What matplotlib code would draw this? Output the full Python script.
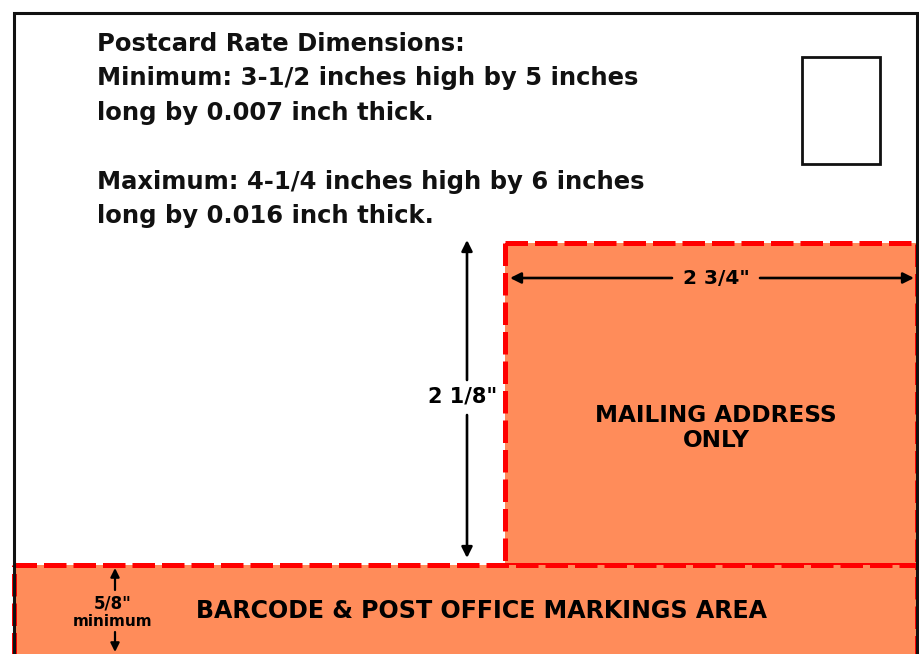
import matplotlib.pyplot as plt
from matplotlib.patches import Rectangle, FancyArrowPatch

# text content of the diagram
header_lines = ["Postcard Rate Dimensions:",
                "Minimum: 3-1/2 inches high by 5 inches",
                "long by 0.007 inch thick.",
                "",
                "Maximum: 4-1/4 inches high by 6 inches",
                "long by 0.016 inch thick."]
address_label = "MAILING ADDRESS\nONLY"
barcode_label = "BARCODE & POST OFFICE MARKINGS AREA"
address_height = '2 1/8"'
address_width = '2 3/4"'
barcode_height = '5/8"'

ORANGE = "#ff8c5a"
RED = "#ff0000"
FONT = "DejaVu Sans"

fig = plt.figure(figsize=(9.2, 6.54), dpi=100)
ax = fig.add_axes([0, 0, 1, 1])
ax.set_xlim(0, 920)
ax.set_ylim(654, 0)
ax.axis("off")

# card outline
ax.plot([14, 14, 917, 917], [680, 13, 13, 680], color="#111111", lw=2.2,
        solid_joinstyle="miter")

# stamp box
ax.add_patch(Rectangle((802, 57), 78, 107, fill=False, ec="#111111", lw=2.0))

# orange zones with red dashed outlines
for x0, y0, w, h in [(505, 243, 412, 322), (14, 565, 903, 110)]:
    ax.add_patch(Rectangle((x0, y0), w, h, fc=ORANGE, ec="none"))
    ax.add_patch(Rectangle((x0, y0), w, h, fill=False, ec=RED, lw=3.6,
                           ls=(0, (4.5, 1.4))))

# header text
y = 44
for line in header_lines:
    if line:
        ax.text(97, y, line, fontsize=17.5, fontweight="bold", va="center",
                ha="left", family=FONT, color="#111111")
    y += 34.5

def arrow(p1, p2, lw=1.9, ms=16):
    ax.add_patch(FancyArrowPatch(p1, p2, arrowstyle="-|>", mutation_scale=ms,
                                 color="black", lw=lw, shrinkA=0, shrinkB=0))

# vertical 2 1/8" dimension
arrow((467, 380), (467, 240))
arrow((467, 415), (467, 558))
ax.text(463, 397, address_height, fontsize=15, fontweight="bold", ha="center",
        va="center", family=FONT)

# horizontal 2 3/4" dimension
arrow((672, 278), (510, 278))
arrow((760, 278), (914, 278))
ax.text(716, 278, address_width, fontsize=14.5, fontweight="bold", ha="center",
        va="center", family=FONT)

ax.text(716, 428, address_label, fontsize=16.7, fontweight="bold", ha="center",
        va="center", family=FONT, linespacing=1.1)

# 5/8" barcode dimension
arrow((115, 590), (115, 568), lw=1.6, ms=13)
arrow((115, 632), (115, 652), lw=1.6, ms=13)
ax.text(113, 603, barcode_height, fontsize=12, fontweight="bold", ha="center",
        va="center", family=FONT)
ax.text(113, 622, "minimum", fontsize=11, fontweight="bold", ha="center",
        va="center", family=FONT)

ax.text(482, 611, barcode_label, fontsize=17.1, fontweight="bold", ha="center",
        va="center", family=FONT)

fig.savefig("out.png", dpi=100)
